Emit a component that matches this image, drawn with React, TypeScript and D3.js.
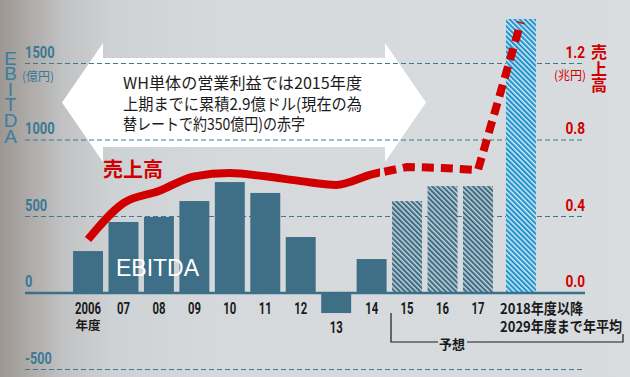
import React from 'react';
import * as d3 from 'd3';

// ---- data ----
const categories = ['2006', '07', '08', '09', '10', '11', '12', '13', '14', '15', '16', '17', 'avg'];
const ebitda = [274, 464, 497, 601, 725, 654, 366, -131, 222, 601, 699, 699, 1791]; // 億円
const sales = [0.28, 0.47, 0.533, 0.61, 0.627, 0.61, 0.585, 0.565, 0.62, 0.659, 0.654, 0.643, 1.417]; // 兆円
const forecastFrom = 9; // index of first forecast year (15)
const leftTicks = [1500, 1000, 500, 0, -500];
const rightTicks = [1.2, 0.8, 0.4, 0.0];
const xLabels = ['2006', '07', '08', '09', '10', '11', '12', '13', '14', '15', '16', '17'];
const lastLabel = ['2018年度以降', '2029年度まで年平均'];
const noteLines = ['WH単体の営業利益では2015年度', '上期までに累積2.9億ドル(現在の為', '替レートで約350億円)の赤字'];

const W = 630, H = 377;
const STEEL = '#3e6f87';
const AXIS_TXT = '#3b7895';
const RED = '#d10000';
const NUM_FONT = 'Roboto, "Liberation Sans", sans-serif';
const JP_FONT = '"Noto Sans CJK JP", "Noto Sans", sans-serif';

function condensedWidth(s: string, digitW: number) {
  let w = 0;
  for (const ch of s) {
    if (ch === '.') w += digitW * 0.45;
    else if (ch === '-') w += digitW * 0.6;
    else w += digitW;
  }
  return w;
}

export default function App() {
  const yL = d3.scaleLinear().domain([-500, 1500]).range([369.5, 63.5]);
  const yR = d3.scaleLinear().domain([0, 1.2]).range([yL(0), yL(1500)]);
  const x = d3.scaleBand<string>().domain(categories).range([70.3, 531.15]).paddingInner(0.155).paddingOuter(0.0775);
  const bw = x.bandwidth();
  const lastCat = categories[categories.length - 1];
  const xs = (c: string) => (x(c) as number) + (c === lastCat ? 7.5 : 0);
  const xc = (c: string) => xs(c) + bw / 2;

  const gridX0 = 25, gridX1 = 585;

  const pts: [number, number][] = categories.map((c, i) => [xc(c), yR(sales[i])]);
  const solidPath = d3.line().curve(d3.curveMonotoneX)(pts.slice(0, forecastFrom + 1)) || '';
  const dashPath = d3.line().curve(d3.curveLinear)(pts.slice(forecastFrom - 1)) || '';

  const arrow = [
    [62, 102.5], [103, 43], [103, 58], [385, 58], [385, 43], [426, 102.5],
    [385, 162], [385, 147], [103, 147], [103, 162],
  ].map((p) => p.join(',')).join(' ');

  return (
    <svg width={W} height={H} style={{ position: 'absolute', left: 0, top: 0 }}>
      <defs>
        <linearGradient id="bg" x1="0" x2="1" y1="0" y2="0">
          <stop offset="0" stopColor="#9c9793" />
          <stop offset="0.04" stopColor="#aca8a5" />
          <stop offset="0.1" stopColor="#c1c2c3" />
          <stop offset="0.18" stopColor="#cfd2d4" />
          <stop offset="0.35" stopColor="#d5d9dc" />
          <stop offset="1" stopColor="#d8dcdf" />
        </linearGradient>
        <pattern id="hatchDark" patternUnits="userSpaceOnUse" width="3.6" height="3.6" patternTransform="rotate(-45)">
          <rect width="3.6" height="3.6" fill="#cdd6db" />
          <rect width="2.2" height="3.6" fill="#3d6e86" />
        </pattern>
        <pattern id="hatchBlue" patternUnits="userSpaceOnUse" width="3.6" height="3.6" patternTransform="rotate(-45)">
          <rect width="3.6" height="3.6" fill="#e0edf4" />
          <rect width="2.2" height="3.6" fill="#1f94cf" />
        </pattern>
        <clipPath id="solidClip"><rect x={0} y={0} width={380} height={H} /></clipPath>
        <clipPath id="dashClip"><rect x={383} y={0} width={W - 383} height={H} /></clipPath>
      </defs>

      <rect x={0} y={0} width={W} height={H} fill="url(#bg)" />

      {/* big double arrow */}
      <polygon points={arrow} fill="#ffffff" />
      {noteLines.map((t, i) => (
        <text key={i} x={123} y={89 + i * 20.5} fontFamily={JP_FONT} fontSize={16} fill="#1c1c1c"
          textLength={[239, 239, 182][i]} lengthAdjust="spacingAndGlyphs">{t}</text>
      ))}

      {/* grid */}
      {leftTicks.filter((t) => t !== 0).map((t) => (
        <line key={t} x1={gridX0} x2={gridX1} y1={yL(t)} y2={yL(t)} stroke="#3f7890" strokeWidth={1} strokeDasharray="5 3" />
      ))}

      {/* bars */}
      {categories.map((c, i) => {
        const v = ebitda[i];
        const fill = i === categories.length - 1 ? 'url(#hatchBlue)' : i >= forecastFrom ? 'url(#hatchDark)' : STEEL;
        return (
          <rect key={c} x={xs(c)} width={bw} y={Math.min(yL(v), yL(0))} height={Math.abs(yL(v) - yL(0))} fill={fill} />
        );
      })}

      {/* zero axis */}
      <line x1={gridX0} x2={gridX1} y1={yL(0)} y2={yL(0)} stroke="#3c7089" strokeWidth={2.5} />

      {/* sales line */}
      <path d={solidPath} fill="none" stroke={RED} strokeWidth={8} clipPath="url(#solidClip)" />
      <path d={dashPath} fill="none" stroke={RED} strokeWidth={8} strokeDasharray="12 7" strokeDashoffset={6} clipPath="url(#dashClip)" />

      {/* labels in plot */}
      <text x={103} y={177} fontFamily={JP_FONT} fontWeight={700} fontSize={20} fill={RED}>売上高</text>
      <text x={116} y={276} fontFamily='"Liberation Sans", Arial, sans-serif' fontSize={23} fill="#ffffff">EBITDA</text>

      {/* left axis */}
      {leftTicks.map((t) => {
        const s = String(t);
        return (
          <text key={t} x={25} y={yL(t) - 6} fontFamily={NUM_FONT} fontWeight={700} fontSize={16} fill={AXIS_TXT}
            textLength={condensedWidth(s, 7.4)} lengthAdjust="spacingAndGlyphs">{s}</text>
        );
      })}
      <text x={22} y={81} fontFamily={JP_FONT} fontSize={12} fill={AXIS_TXT}>(億円)</text>
      <text x={10.5} y={64.5} textAnchor="middle" fontFamily='"Liberation Sans", Arial, sans-serif' fontWeight={400} fontSize={19} fill="#3c7d9c">
        {'EBITDA'.split('').map((ch, i) => (
          <tspan key={i} x={10.5} dy={i === 0 ? 0 : 15.6}>{ch}</tspan>
        ))}
      </text>

      {/* right axis */}
      {rightTicks.map((t) => {
        const s = t.toFixed(1);
        return (
          <text key={s} x={585} y={yR(t) - 6} textAnchor="end" fontFamily={NUM_FONT} fontWeight={700} fontSize={16} fill={RED}
            textLength={condensedWidth(s, 8)} lengthAdjust="spacingAndGlyphs">{s}</text>
        );
      })}
      <text x={586} y={80} textAnchor="end" fontFamily={JP_FONT} fontSize={12} fill={RED}>(兆円)</text>
      <text x={599} y={58} textAnchor="middle" fontFamily={JP_FONT} fontWeight={700} fontSize={16} fill={RED}>
        {'売上高'.split('').map((ch, i) => (
          <tspan key={i} x={599} dy={i === 0 ? 0 : 16.5}>{ch}</tspan>
        ))}
      </text>

      {/* x labels */}
      {xLabels.map((s, i) => {
        const c = categories[i];
        const below = ebitda[i] < 0;
        return (
          <text key={s} x={xc(c)} y={below ? 333 : 314} textAnchor="middle" fontFamily={NUM_FONT} fontWeight={700} fontSize={16} fill="#1a1a1a"
            textLength={condensedWidth(s, 6.5)} lengthAdjust="spacingAndGlyphs">{s}</text>
        );
      })}
      <text x={xc(categories[0])} y={330} textAnchor="middle" fontFamily={JP_FONT} fontWeight={700} fontSize={12.5} fill="#1a1a1a">年度</text>
      {lastLabel.map((s, i) => (
        <text key={s} x={500} y={314 + i * 17.5} fontFamily={JP_FONT} fontWeight={700} fontSize={15} fill="#1a1a1a"
          textLength={[83, 122][i]} lengthAdjust="spacingAndGlyphs">{s}</text>
      ))}

      {/* forecast bracket */}
      <path d="M391,313 V342 H438 M467,342 H623 V334" fill="none" stroke="#1a1a1a" strokeWidth={1.2} />
      <text x={452} y={349} textAnchor="middle" fontFamily={JP_FONT} fontWeight={700} fontSize={13} fill="#1a1a1a">予想</text>
    </svg>
  );
}
